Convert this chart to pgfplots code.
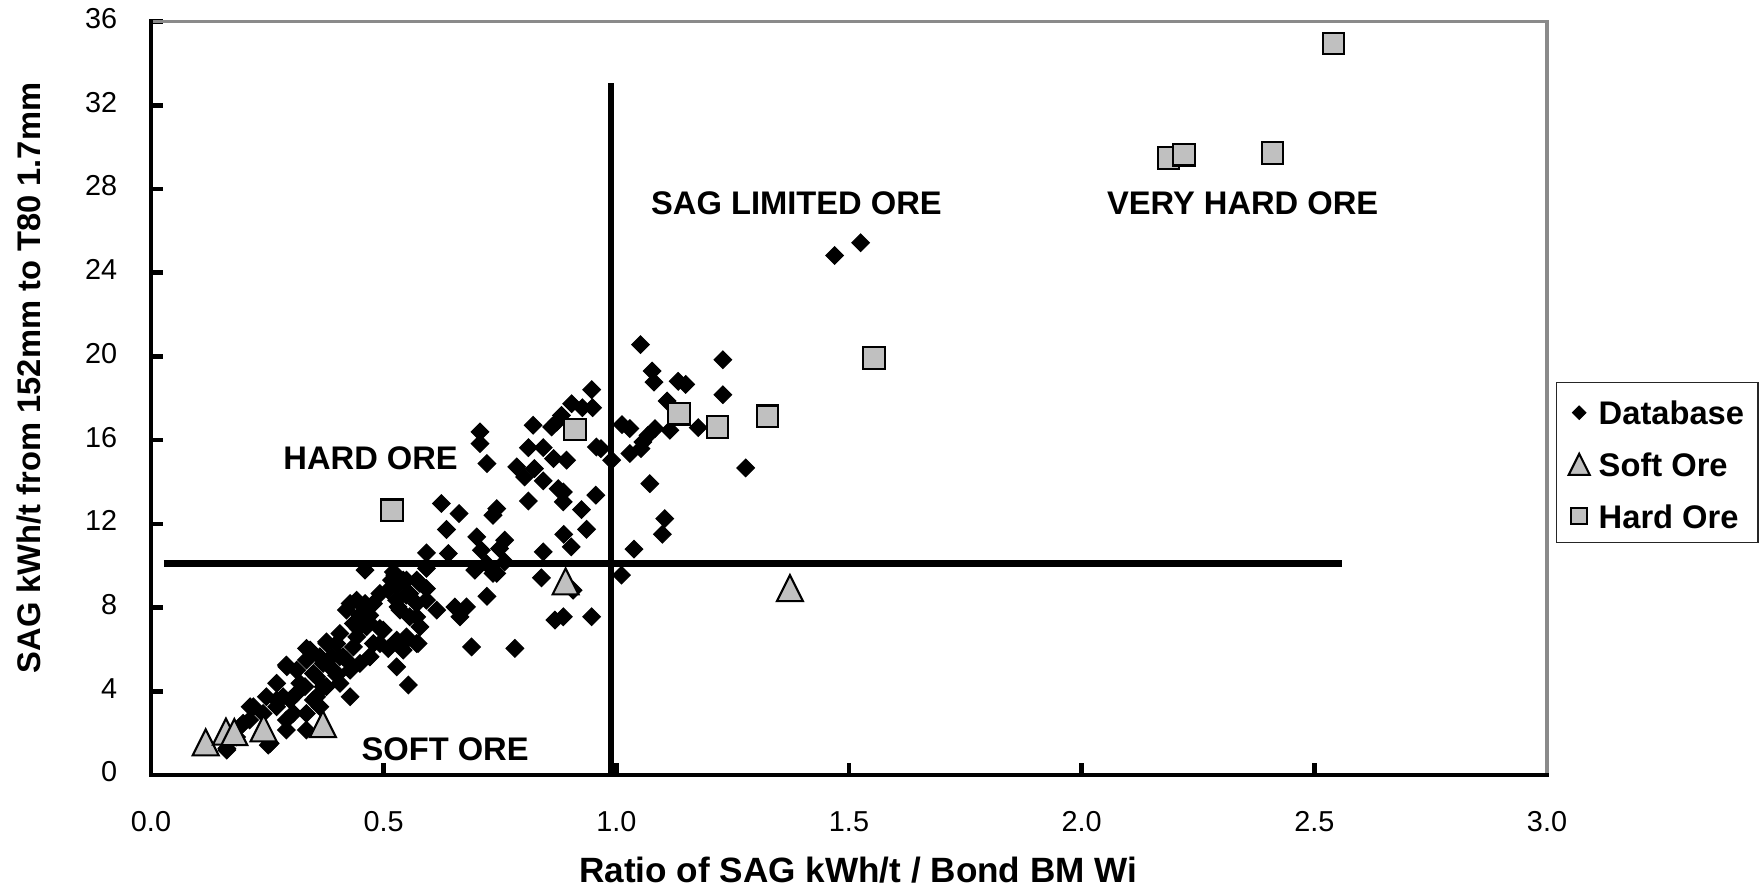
\documentclass[border=0pt]{standalone}
\usepackage{fontspec}
\setmainfont{Liberation Sans}
\usepackage{pgfplots}
\pgfplotsset{compat=1.18}
\definecolor{markgray}{HTML}{C0C0C0}
\definecolor{framegray}{HTML}{8A8A8A}
\pgfdeclareplotmark{xdiamond}{%
  \pgfpathmoveto{\pgfqpoint{0pt}{\pgfplotmarksize}}%
  \pgfpathlineto{\pgfqpoint{\pgfplotmarksize}{0pt}}%
  \pgfpathlineto{\pgfqpoint{0pt}{-\pgfplotmarksize}}%
  \pgfpathlineto{\pgfqpoint{-\pgfplotmarksize}{0pt}}%
  \pgfpathclose\pgfusepathqfillstroke}
\pgfdeclareplotmark{xtri}{%
  \pgfpathmoveto{\pgfqpoint{0pt}{\pgfplotmarksize}}%
  \pgfpathlineto{\pgfqpoint{\pgfplotmarksize}{-\pgfplotmarksize}}%
  \pgfpathlineto{\pgfqpoint{-\pgfplotmarksize}{-\pgfplotmarksize}}%
  \pgfpathclose\pgfusepathqfillstroke}
\pgfplotsset{mylegimg/.style={legend image code/.code={%
  \path[draw=none, fill=none] (-1.2mm,-1.2mm) rectangle (1.2mm,1.2mm);
  \draw[##1] plot coordinates {(0cm,-0.2mm)};}}}
\begin{document}
\begin{tikzpicture}
\useasboundingbox (-15.1mm,-11.1mm) rectangle (160.8mm,77.5mm);
\begin{axis}[
  at={(0,0)}, anchor=south west,
  scale only axis, width=139.6mm, height=75.35mm,
  xmin=0, xmax=3, ymin=0, ymax=36,
  xtick={0,0.5,1,1.5,2,2.5,3}, ytick={0,4,8,12,16,20,24,28,32,36},
  tick pos=left, tick align=inside,
  major tick length=1.2mm,
  every tick/.style={black, line width=1.3pt},
  axis line style={draw=none},
  /pgf/number format/assume math mode=true,
  tick label style={font=\fontsize{8.2}{10}\selectfont},
  xticklabel style={/pgf/number format/.cd, fixed, fixed zerofill, precision=1, /tikz/.cd, anchor=base, yshift=-5.6mm},
  yticklabel style={anchor=east, xshift=-2.14mm, yshift=0.3mm},
  xlabel={Ratio of SAG kWh/t / Bond BM Wi},
  ylabel={SAG kWh/t from 152mm to T80 1.7mm},
  xlabel style={font=\bfseries\fontsize{10}{12}\selectfont, at={(axis description cs:0.5066,-0.142)}, anchor=base},
  ylabel style={font=\bfseries\fontsize{9.3}{11}\selectfont, at={(axis description cs:-0.0792,0.527)}, anchor=base},
  legend style={at={(axis description cs:1.00645,0.522)}, anchor=north west,
    draw=black!85, line width=0.4pt, fill=white,
    font=\bfseries\fontsize{9.3}{11}\selectfont,
    inner xsep=1.05mm, inner ysep=0.73mm, row sep=0.97mm, column sep=0.4mm,
    nodes={text height=3.5mm, text depth=0.7mm, inner ysep=0pt, inner xsep=0.35mm}},
  legend cell align=left,
  clip=false,
]
\draw[framegray, line width=1.1pt] (rel axis cs:0,1) -- (rel axis cs:1,1) -- (rel axis cs:1,0);
\draw[black, line width=1.4pt, line cap=rect] (rel axis cs:0,1) -- (rel axis cs:0,0) -- (rel axis cs:1,0);
\addplot[black, line width=1.8pt, forget plot] coordinates {(0.0275,10.1) (2.56,10.1)};
\addplot[black, line width=1.8pt, forget plot] coordinates {(0.988,0) (0.988,33.08)};

\addplot[only marks, mark=xdiamond, mark size=2.5pt, mylegimg,
  mark options={fill=black, draw=black, line width=0.3pt},
  legend image post style={mark size=1.9pt}] table {
x y
1.469 24.82
1.525 25.43
1.052 20.56
1.229 19.84
1.077 19.30
1.081 18.77
1.133 18.81
1.149 18.66
1.229 18.17
0.947 18.41
0.904 17.74
0.927 17.55
0.949 17.55
1.109 17.87
1.012 16.74
1.029 16.55
1.176 16.60
1.115 16.47
1.083 16.55
1.068 16.23
1.057 15.91
1.053 15.59
1.029 15.36
0.957 15.67
0.967 15.59
0.893 15.04
0.990 15.04
1.072 13.92
1.278 14.67
0.956 13.37
0.886 13.52
0.886 13.05
0.925 12.68
0.936 11.74
1.104 12.25
1.099 11.50
0.887 11.50
0.903 10.90
1.038 10.79
1.011 9.55
0.821 16.71
0.861 16.63
0.872 16.86
0.882 17.18
0.707 16.39
0.707 15.83
0.722 14.88
0.811 15.64
0.843 15.64
0.865 15.12
0.786 14.72
0.803 14.24
0.824 14.64
0.843 14.05
0.811 13.09
0.875 13.68
0.624 12.97
0.662 12.49
0.635 11.73
0.743 12.73
0.735 12.41
0.592 10.61
0.592 9.87
0.639 10.58
0.700 11.38
0.710 10.74
0.749 10.82
0.760 11.22
0.760 10.18
0.696 9.79
0.721 10.10
0.743 9.63
0.735 9.63
0.843 10.66
0.839 9.42
0.907 8.83
0.614 7.88
0.653 8.03
0.664 7.56
0.678 8.03
0.722 8.54
0.868 7.40
0.886 7.56
0.947 7.56
0.689 6.12
0.782 6.05
0.549 6.44
0.574 6.28
0.549 9.31
0.571 9.31
0.592 8.91
0.549 8.59
0.571 8.19
0.535 7.88
0.556 7.56
0.578 7.08
0.549 6.60
0.460 9.79
0.521 9.70
0.517 9.31
0.528 8.99
0.510 8.83
0.442 8.35
0.478 8.19
0.420 7.88
0.449 7.64
0.435 7.24
0.467 7.32
0.531 8.03
0.406 6.76
0.445 7.00
0.492 7.00
0.478 6.28
0.510 6.04
0.471 5.65
0.435 6.12
0.413 5.65
0.535 6.28
0.528 5.17
0.553 4.30
0.428 3.74
0.334 6.05
0.291 5.25
0.378 6.28
0.363 5.65
0.349 4.85
0.392 5.01
0.406 5.65
0.320 4.38
0.270 4.38
0.370 4.22
0.406 4.38
0.349 3.58
0.299 3.58
0.270 3.58
0.334 2.94
0.363 3.26
0.291 2.63
0.291 2.15
0.220 3.26
0.241 2.94
0.248 3.74
0.212 2.63
0.191 2.31
0.334 2.15
0.252 1.43
0.163 1.27
0.524 9.55
0.542 9.31
0.556 8.67
0.528 8.35
0.578 9.15
0.592 8.35
0.571 7.56
0.428 8.19
0.460 8.19
0.492 8.67
0.470 7.63
0.463 7.08
0.499 6.92
0.442 6.60
0.492 6.28
0.528 6.44
0.542 5.97
0.571 6.28
0.470 5.65
0.449 5.33
0.399 6.28
0.377 6.36
0.342 5.97
0.388 5.65
0.420 5.49
0.370 5.33
0.334 5.49
0.428 5.01
0.399 4.77
0.356 4.69
0.313 5.01
0.292 5.17
0.331 4.22
0.377 4.22
0.356 3.74
0.313 3.90
0.284 3.74
0.306 2.95
0.270 3.26
0.213 3.26
0.198 2.47
0.256 1.51
0.184 1.82
0.163 1.19
};
\addlegendentry{Database}

\addplot[only marks, mark=xtri, mark size=3.7pt, mylegimg,
  mark options={fill=markgray, draw=black, line width=0.6pt},
  legend image post style={mark size=3pt}] table {
x y
0.1175 1.56
0.161 2.07
0.179 2.05
0.242 2.23
0.3695 2.43
0.891 9.25
1.373 8.93
};
\addlegendentry{Soft Ore}

\addplot[only marks, mark=square*, mark size=3.05pt, mylegimg,
  mark options={fill=markgray, draw=black, line width=0.6pt},
  legend image post style={mark size=2.3pt}] table {
x y
0.518 12.65
0.911 16.50
1.135 17.26
1.217 16.63
1.325 17.14
1.554 19.92
2.187 29.48
2.220 29.63
2.410 29.72
2.541 34.95
};
\addlegendentry{Hard Ore}

\node[font=\bfseries\fontsize{9.3}{11}\selectfont] at (axis cs:1.387,27.30) {SAG LIMITED ORE};
\node[font=\bfseries\fontsize{9.3}{11}\selectfont] at (axis cs:2.346,27.30) {VERY HARD ORE};
\node[font=\bfseries\fontsize{9.3}{11}\selectfont] at (axis cs:0.472,15.15) {HARD ORE};
\node[font=\bfseries\fontsize{9.3}{11}\selectfont] at (axis cs:0.632,1.22) {SOFT ORE};
\end{axis}
\end{tikzpicture}
\end{document}
